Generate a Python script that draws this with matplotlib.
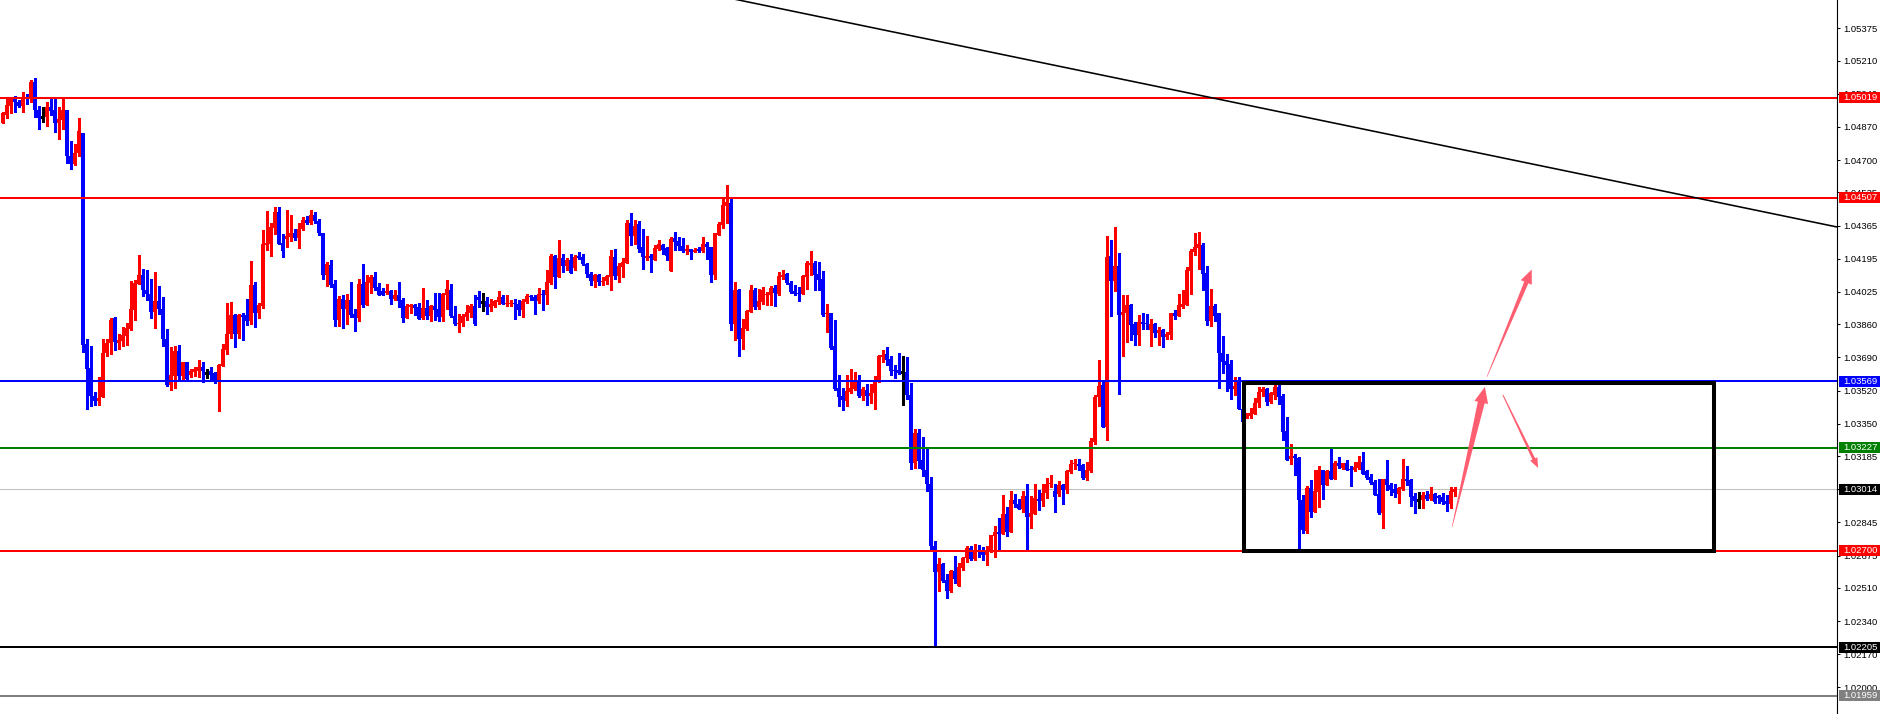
import matplotlib
matplotlib.use("Agg")
import matplotlib.pyplot as plt
from matplotlib.patches import Rectangle, Polygon
from matplotlib.transforms import IdentityTransform, blended_transform_factory
import numpy as np

# ---------------- data (EURUSD-like candles) ----------------
opens = [
    1.04892, 1.04931, 1.04977, 1.05021, 1.04999, 1.04977, 1.05016, 1.05011, 1.05098, 1.04957,
    1.04919, 1.04922, 1.04970, 1.04957, 1.04892, 1.04905, 1.04957, 1.04722, 1.04678, 1.04738,
    1.04837, 1.03759, 1.03636, 1.03491, 1.03469, 1.03486, 1.03713, 1.03765, 1.03891, 1.03763,
    1.03772, 1.03802, 1.03837, 1.03934, 1.04067, 1.04110, 1.04037, 1.04016, 1.03922, 1.03977,
    1.03939, 1.03785, 1.03551, 1.03597, 1.03725, 1.03594, 1.03665, 1.03601, 1.03614, 1.03623,
    1.03640, 1.03611, 1.03618, 1.03609, 1.03563, 1.03645, 1.03730, 1.03811, 1.03908, 1.03811,
    1.03905, 1.03905, 1.03876, 1.04059, 1.03918, 1.03953, 1.04267, 1.04272, 1.04353, 1.04432,
    1.04276, 1.04297, 1.04304, 1.04325, 1.04301, 1.04347, 1.04393, 1.04380, 1.04419, 1.04388,
    1.04325, 1.04111, 1.04163, 1.04065, 1.03880, 1.03988, 1.03937, 1.03983, 1.03914, 1.03892,
    1.04065, 1.03957, 1.04072, 1.04103, 1.04048, 1.04029, 1.04020, 1.04029, 1.03988, 1.04012,
    1.03983, 1.03892, 1.03949, 1.03957, 1.03949, 1.03892, 1.03942, 1.03902, 1.03954, 1.03937,
    1.03897, 1.04010, 1.04034, 1.03902, 1.03860, 1.03867, 1.03897, 1.03916, 1.03954, 1.04000,
    1.03976, 1.03978, 1.03949, 1.03952, 1.03973, 1.03998, 1.03962, 1.03962, 1.03966, 1.03962,
    1.03932, 1.03976, 1.04003, 1.04000, 1.03979, 1.04014, 1.04010, 1.04072, 1.04210, 1.04103,
    1.04200, 1.04157, 1.04188, 1.04149, 1.04209, 1.04205, 1.04166, 1.04119, 1.04080, 1.04111,
    1.04077, 1.04080, 1.04102, 1.04205, 1.04106, 1.04154, 1.04171, 1.04379, 1.04313, 1.04372,
    1.04256, 1.04201, 1.04210, 1.04191, 1.04244, 1.04268, 1.04248, 1.04133, 1.04299, 1.04285,
    1.04263, 1.04234, 1.04244, 1.04230, 1.04246, 1.04234, 1.04273, 1.04253, 1.04111, 1.04319,
    1.04367, 1.04465, 1.04482, 1.03863, 1.04037, 1.03786, 1.03837, 1.03923, 1.04034, 1.03948,
    1.03974, 1.04011, 1.04011, 1.04046, 1.04017, 1.04102, 1.04116, 1.04073, 1.04029, 1.04022,
    1.04017, 1.04102, 1.04162, 1.04171, 1.04116, 1.04090, 1.03911, 1.03918, 1.03747, 1.03533,
    1.03490, 1.03466, 1.03512, 1.03529, 1.03564, 1.03494, 1.03523, 1.03494, 1.03506, 1.03565,
    1.03694, 1.03707, 1.03682, 1.03625, 1.03625, 1.03613, 1.03613, 1.03500, 1.03150, 1.03305,
    1.03167, 1.03116, 1.03044, 1.02727, 1.02591, 1.02633, 1.02548, 1.02493, 1.02599, 1.02519,
    1.02611, 1.02663, 1.02715, 1.02656, 1.02702, 1.02693, 1.02676, 1.02697, 1.02775, 1.02796,
    1.02784, 1.02887, 1.02796, 1.02958, 1.02941, 1.02912, 1.02981, 1.02873, 1.02890, 1.02963,
    1.02953, 1.02996, 1.03040, 1.03004, 1.02989, 1.03035, 1.03010, 1.03104, 1.03143, 1.03146,
    1.03138, 1.03073, 1.03109, 1.03258, 1.03487, 1.03547, 1.03333, 1.04209, 1.04082, 1.04157,
    1.03906, 1.03918, 1.03957, 1.03860, 1.03803, 1.03872, 1.03867, 1.03829, 1.03863, 1.03815,
    1.03829, 1.03795, 1.03803, 1.03915, 1.03901, 1.03949, 1.03957, 1.04133, 1.04231, 1.04248,
    1.04265, 1.04120, 1.03877, 1.03952, 1.03915, 1.03713, 1.03670, 1.03655, 1.03526, 1.03564,
    1.03427, 1.03381, 1.03390, 1.03400, 1.03455, 1.03511, 1.03526, 1.03463, 1.03497, 1.03540,
    1.03492, 1.03313, 1.03169, 1.03184, 1.03177, 1.02962, 1.02800, 1.03022, 1.02899, 1.03001,
    1.03112, 1.03036, 1.03109, 1.03070, 1.03147, 1.03126, 1.03147, 1.03121, 1.03112, 1.03124,
    1.03155, 1.03107, 1.03078, 1.03053, 1.02993, 1.02894, 1.03066, 1.03036, 1.03018, 1.02989,
    1.03018, 1.03066, 1.03061, 1.02981, 1.02959, 1.02959, 1.02988, 1.02964, 1.02993, 1.02979,
    1.02976, 1.02953, 1.02938, 1.03001,
]
highs = [
    1.04948, 1.05016, 1.05025, 1.05028, 1.05008, 1.05047, 1.05039, 1.05110, 1.05119, 1.04977,
    1.04970, 1.04999, 1.05011, 1.05011, 1.04970, 1.05011, 1.04957, 1.04799, 1.04785, 1.04914,
    1.04840, 1.03785, 1.03746, 1.03512, 1.03592, 1.03785, 1.03785, 1.03893, 1.03896, 1.03811,
    1.03845, 1.03867, 1.04081, 1.04084, 1.04213, 1.04144, 1.04139, 1.04090, 1.04125, 1.04057,
    1.03999, 1.03835, 1.03742, 1.03746, 1.03756, 1.03669, 1.03669, 1.03631, 1.03640, 1.03679,
    1.03665, 1.03631, 1.03640, 1.03614, 1.03657, 1.03760, 1.03970, 1.03973, 1.03913, 1.03913,
    1.03918, 1.03987, 1.04182, 1.04076, 1.03970, 1.04341, 1.04438, 1.04380, 1.04461, 1.04461,
    1.04324, 1.04445, 1.04419, 1.04350, 1.04376, 1.04410, 1.04414, 1.04445, 1.04436, 1.04397,
    1.04328, 1.04180, 1.04188, 1.04085, 1.04003, 1.04008, 1.04014, 1.04075, 1.03940, 1.04091,
    1.04167, 1.04111, 1.04111, 1.04128, 1.04072, 1.04046, 1.04068, 1.04037, 1.04034, 1.04075,
    1.03995, 1.03961, 1.03966, 1.03966, 1.03969, 1.04044, 1.03983, 1.03959, 1.04022, 1.04022,
    1.04020, 1.04085, 1.04065, 1.03954, 1.03911, 1.03914, 1.03957, 1.03961, 1.04008, 1.04029,
    1.04020, 1.04000, 1.03990, 1.03986, 1.04029, 1.04008, 1.04012, 1.03983, 1.03988, 1.03983,
    1.03991, 1.04017, 1.04008, 1.04008, 1.04044, 1.04034, 1.04137, 1.04219, 1.04214, 1.04291,
    1.04222, 1.04200, 1.04222, 1.04214, 1.04229, 1.04222, 1.04174, 1.04126, 1.04119, 1.04116,
    1.04102, 1.04111, 1.04239, 1.04246, 1.04171, 1.04201, 1.04393, 1.04431, 1.04393, 1.04389,
    1.04347, 1.04311, 1.04217, 1.04265, 1.04290, 1.04273, 1.04256, 1.04304, 1.04333, 1.04304,
    1.04299, 1.04265, 1.04244, 1.04251, 1.04253, 1.04304, 1.04282, 1.04256, 1.04325, 1.04381,
    1.04504, 1.04572, 1.04501, 1.04077, 1.04042, 1.03888, 1.03931, 1.04059, 1.04047, 1.04039,
    1.04051, 1.04025, 1.04054, 1.04059, 1.04128, 1.04136, 1.04123, 1.04080, 1.04059, 1.04051,
    1.04111, 1.04184, 1.04236, 1.04184, 1.04179, 1.04133, 1.03962, 1.03919, 1.03880, 1.03598,
    1.03534, 1.03598, 1.03632, 1.03615, 1.03598, 1.03540, 1.03553, 1.03553, 1.03594, 1.03702,
    1.03728, 1.03741, 1.03697, 1.03651, 1.03711, 1.03697, 1.03690, 1.03557, 1.03326, 1.03326,
    1.03280, 1.03220, 1.03078, 1.02748, 1.02664, 1.02637, 1.02579, 1.02603, 1.02671, 1.02637,
    1.02668, 1.02722, 1.02722, 1.02733, 1.02728, 1.02719, 1.02722, 1.02782, 1.02827, 1.02868,
    1.02984, 1.02924, 1.03006, 1.02993, 1.02967, 1.03006, 1.03044, 1.02979, 1.03044, 1.03010,
    1.03044, 1.03071, 1.03087, 1.03040, 1.03056, 1.03044, 1.03112, 1.03164, 1.03172, 1.03169,
    1.03146, 1.03155, 1.03275, 1.03497, 1.03675, 1.03564, 1.04311, 1.04291, 1.04356, 1.04226,
    1.04012, 1.04012, 1.03961, 1.03872, 1.03906, 1.03915, 1.03911, 1.03889, 1.03867, 1.03846,
    1.03838, 1.03821, 1.03918, 1.03932, 1.04017, 1.04034, 1.04154, 1.04243, 1.04328, 1.04330,
    1.04274, 1.04157, 1.04038, 1.03961, 1.03918, 1.03800, 1.03706, 1.03679, 1.03590, 1.03590,
    1.03436, 1.03403, 1.03429, 1.03480, 1.03537, 1.03537, 1.03535, 1.03511, 1.03549, 1.03549,
    1.03501, 1.03386, 1.03249, 1.03193, 1.03181, 1.02988, 1.03030, 1.03061, 1.03112, 1.03133,
    1.03116, 1.03116, 1.03224, 1.03159, 1.03178, 1.03147, 1.03164, 1.03135, 1.03155, 1.03186,
    1.03207, 1.03116, 1.03095, 1.03061, 1.03070, 1.03070, 1.03164, 1.03048, 1.03044, 1.03027,
    1.03172, 1.03133, 1.03065, 1.02996, 1.03001, 1.03001, 1.03005, 1.03024, 1.02996, 1.02984,
    1.02996, 1.02984, 1.03027, 1.03024,
]
lows = [
    1.04888, 1.04914, 1.04943, 1.04948, 1.04974, 1.04948, 1.04987, 1.04999, 1.04922, 1.04859,
    1.04897, 1.04876, 1.04931, 1.04845, 1.04809, 1.04862, 1.04686, 1.04657, 1.04674, 1.04720,
    1.03717, 1.03426, 1.03443, 1.03447, 1.03448, 1.03486, 1.03696, 1.03708, 1.03729, 1.03734,
    1.03746, 1.03754, 1.03831, 1.03884, 1.04064, 1.04002, 1.03982, 1.03893, 1.03840, 1.03913,
    1.03748, 1.03542, 1.03525, 1.03534, 1.03571, 1.03571, 1.03575, 1.03589, 1.03597, 1.03592,
    1.03563, 1.03585, 1.03571, 1.03558, 1.03414, 1.03645, 1.03708, 1.03789, 1.03742, 1.03789,
    1.03777, 1.03854, 1.03862, 1.03845, 1.03891, 1.03944, 1.04238, 1.04209, 1.04324, 1.04269,
    1.04204, 1.04256, 1.04285, 1.04289, 1.04251, 1.04342, 1.04373, 1.04373, 1.04376, 1.04316,
    1.04094, 1.04055, 1.04051, 1.03851, 1.03851, 1.03841, 1.03863, 1.03897, 1.03826, 1.03877,
    1.03949, 1.03957, 1.04020, 1.04034, 1.04008, 1.04008, 1.04017, 1.03962, 1.03983, 1.03949,
    1.03872, 1.03892, 1.03918, 1.03909, 1.03887, 1.03887, 1.03887, 1.03877, 1.03884, 1.03877,
    1.03877, 1.03937, 1.03897, 1.03856, 1.03820, 1.03851, 1.03880, 1.03897, 1.03856, 1.03949,
    1.03928, 1.03911, 1.03926, 1.03949, 1.03966, 1.03961, 1.03952, 1.03952, 1.03887, 1.03909,
    1.03897, 1.03969, 1.03983, 1.03911, 1.03971, 1.03932, 1.03962, 1.04068, 1.04046, 1.04103,
    1.04128, 1.04137, 1.04123, 1.04137, 1.04193, 1.04161, 1.04103, 1.04059, 1.04051, 1.04061,
    1.04059, 1.04068, 1.04034, 1.04094, 1.04077, 1.04102, 1.04171, 1.04265, 1.04270, 1.04230,
    1.04143, 1.04188, 1.04128, 1.04188, 1.04239, 1.04222, 1.04188, 1.04133, 1.04242, 1.04239,
    1.04230, 1.04222, 1.04196, 1.04229, 1.04229, 1.04230, 1.04196, 1.04077, 1.04094, 1.04316,
    1.04354, 1.04376, 1.03829, 1.03777, 1.03697, 1.03731, 1.03829, 1.03923, 1.03940, 1.03936,
    1.03962, 1.03957, 1.03957, 1.03953, 1.04008, 1.04094, 1.04068, 1.04020, 1.04011, 1.03979,
    1.04013, 1.04042, 1.04111, 1.04037, 1.04037, 1.03902, 1.03820, 1.03731, 1.03521, 1.03440,
    1.03422, 1.03440, 1.03507, 1.03521, 1.03487, 1.03471, 1.03446, 1.03458, 1.03425, 1.03562,
    1.03668, 1.03651, 1.03600, 1.03586, 1.03605, 1.03446, 1.03476, 1.03117, 1.03126, 1.03126,
    1.03083, 1.03006, 1.02702, 1.02211, 1.02493, 1.02539, 1.02457, 1.02488, 1.02536, 1.02519,
    1.02604, 1.02642, 1.02651, 1.02651, 1.02668, 1.02651, 1.02625, 1.02693, 1.02668, 1.02707,
    1.02784, 1.02775, 1.02796, 1.02924, 1.02912, 1.02899, 1.02710, 1.02816, 1.02886, 1.02907,
    1.02929, 1.02970, 1.03027, 1.02899, 1.02979, 1.02938, 1.02996, 1.03099, 1.03121, 1.03112,
    1.03066, 1.03061, 1.03104, 1.03249, 1.03440, 1.03333, 1.03268, 1.03903, 1.04031, 1.03504,
    1.03697, 1.03769, 1.03778, 1.03756, 1.03756, 1.03838, 1.03833, 1.03749, 1.03795, 1.03752,
    1.03744, 1.03786, 1.03786, 1.03886, 1.03901, 1.03945, 1.03957, 1.04014, 1.04214, 1.04145,
    1.04034, 1.03855, 1.03850, 1.03877, 1.03533, 1.03610, 1.03516, 1.03475, 1.03499, 1.03424,
    1.03355, 1.03378, 1.03378, 1.03398, 1.03437, 1.03492, 1.03446, 1.03458, 1.03475, 1.03449,
    1.03266, 1.03164, 1.03143, 1.03087, 1.02714, 1.02791, 1.02791, 1.02873, 1.02899, 1.02924,
    1.02967, 1.03036, 1.03066, 1.03066, 1.03126, 1.03121, 1.03112, 1.03030, 1.03107, 1.03121,
    1.03092, 1.03070, 1.03044, 1.02984, 1.02890, 1.02817, 1.03013, 1.02984, 1.02976, 1.02945,
    1.03013, 1.03036, 1.02930, 1.02894, 1.02921, 1.02921, 1.02959, 1.02959, 1.02947, 1.02947,
    1.02938, 1.02904, 1.02919, 1.02981,
]
closes = [
    1.04939, 1.04982, 1.05016, 1.04999, 1.04977, 1.05025, 1.05011, 1.05098, 1.04957, 1.04917,
    1.04919, 1.04970, 1.04953, 1.04892, 1.04909, 1.04957, 1.04722, 1.04678, 1.04739, 1.04849,
    1.03754, 1.03631, 1.03491, 1.03465, 1.03483, 1.03713, 1.03765, 1.03884, 1.03768, 1.03777,
    1.03807, 1.03840, 1.03936, 1.04071, 1.04110, 1.04037, 1.04016, 1.03922, 1.03977, 1.03939,
    1.03785, 1.03551, 1.03602, 1.03725, 1.03594, 1.03669, 1.03580, 1.03618, 1.03629, 1.03640,
    1.03618, 1.03611, 1.03601, 1.03563, 1.03652, 1.03734, 1.03811, 1.03908, 1.03811, 1.03905,
    1.03896, 1.03876, 1.04059, 1.03918, 1.03956, 1.04269, 1.04276, 1.04358, 1.04432, 1.04269,
    1.04235, 1.04311, 1.04325, 1.04301, 1.04347, 1.04393, 1.04380, 1.04419, 1.04388, 1.04325,
    1.04111, 1.04166, 1.04060, 1.03880, 1.03988, 1.03937, 1.03983, 1.03909, 1.03892, 1.04065,
    1.03957, 1.04075, 1.04103, 1.04043, 1.04012, 1.04012, 1.04029, 1.03988, 1.04012, 1.03979,
    1.03892, 1.03954, 1.03957, 1.03943, 1.03887, 1.03942, 1.03902, 1.03954, 1.03933, 1.03897,
    1.04014, 1.04039, 1.03902, 1.03860, 1.03868, 1.03902, 1.03920, 1.03954, 1.03860, 1.03983,
    1.03976, 1.03949, 1.03962, 1.03978, 1.03998, 1.03962, 1.03969, 1.03969, 1.03961, 1.03932,
    1.03979, 1.04003, 1.04000, 1.03979, 1.04014, 1.04008, 1.04077, 1.04210, 1.04103, 1.04200,
    1.04157, 1.04188, 1.04123, 1.04205, 1.04200, 1.04166, 1.04118, 1.04082, 1.04111, 1.04077,
    1.04082, 1.04106, 1.04208, 1.04106, 1.04159, 1.04179, 1.04379, 1.04313, 1.04365, 1.04244,
    1.04205, 1.04208, 1.04200, 1.04251, 1.04273, 1.04239, 1.04210, 1.04295, 1.04282, 1.04260,
    1.04234, 1.04244, 1.04230, 1.04239, 1.04234, 1.04273, 1.04253, 1.04111, 1.04325, 1.04372,
    1.04470, 1.04487, 1.03863, 1.04037, 1.03786, 1.03842, 1.03926, 1.04034, 1.03948, 1.03977,
    1.04034, 1.04017, 1.04046, 1.04020, 1.04106, 1.04111, 1.04071, 1.04025, 1.04017, 1.04017,
    1.04106, 1.04171, 1.04171, 1.04111, 1.04085, 1.03906, 1.03918, 1.03740, 1.03526, 1.03487,
    1.03470, 1.03517, 1.03533, 1.03572, 1.03490, 1.03526, 1.03494, 1.03509, 1.03565, 1.03697,
    1.03702, 1.03677, 1.03620, 1.03620, 1.03608, 1.03613, 1.03500, 1.03150, 1.03305, 1.03161,
    1.03112, 1.03040, 1.02722, 1.02591, 1.02633, 1.02545, 1.02493, 1.02599, 1.02553, 1.02616,
    1.02664, 1.02714, 1.02659, 1.02702, 1.02693, 1.02676, 1.02697, 1.02779, 1.02796, 1.02784,
    1.02887, 1.02796, 1.02958, 1.02938, 1.02916, 1.02981, 1.02873, 1.02893, 1.02970, 1.02953,
    1.02998, 1.03044, 1.03049, 1.02975, 1.03039, 1.03010, 1.03107, 1.03146, 1.03146, 1.03133,
    1.03073, 1.03112, 1.03261, 1.03485, 1.03544, 1.03333, 1.04202, 1.04082, 1.04157, 1.03906,
    1.03923, 1.03957, 1.03855, 1.03803, 1.03872, 1.03860, 1.03860, 1.03860, 1.03815, 1.03829,
    1.03795, 1.03809, 1.03915, 1.03901, 1.03957, 1.03962, 1.04137, 1.04236, 1.04253, 1.04270,
    1.04116, 1.03877, 1.03952, 1.03901, 1.03713, 1.03667, 1.03650, 1.03530, 1.03544, 1.03424,
    1.03359, 1.03386, 1.03407, 1.03458, 1.03514, 1.03526, 1.03463, 1.03506, 1.03540, 1.03489,
    1.03309, 1.03167, 1.03184, 1.03177, 1.02959, 1.02808, 1.03022, 1.02899, 1.03005, 1.03112,
    1.03036, 1.03109, 1.03070, 1.03147, 1.03133, 1.03147, 1.03112, 1.03116, 1.03130, 1.03155,
    1.03095, 1.03075, 1.03049, 1.02984, 1.02894, 1.03066, 1.03036, 1.03010, 1.02996, 1.03022,
    1.03066, 1.03058, 1.02976, 1.02953, 1.02959, 1.02988, 1.02964, 1.02993, 1.02950, 1.02971,
    1.02950, 1.02938, 1.03005, 1.03014,
]

tick_prices = [1.05375, 1.05210, 1.05040, 1.04870, 1.04700, 1.04535, 1.04365,
               1.04195, 1.04025, 1.03860, 1.03690, 1.03520, 1.03350, 1.03185,
               1.03015, 1.02845, 1.02675, 1.02510, 1.02340, 1.02170, 1.02000]

level_prices = [1.05019, 1.04507, 1.03569, 1.03227, 1.03014, 1.02700, 1.02205, 1.01959]
level_line_colors = ['#ff0000', '#ff0000', '#0000ff', '#008000', '#c0c0c0',
                     '#ff0000', '#000000', '#808080']
level_label_colors = ['#ff0000', '#ff0000', '#0000ff', '#008000', '#000000',
                      '#ff0000', '#000000', '#808080']

# trend line anchors (bar index, price)
trend_bars = [150.0, 458.6]
trend_prices = [1.05664, 1.04358]

# rectangle (bar index / price)
box_bars = [310.4, 427.9]
box_prices = [1.02700, 1.03558]

# arrows: (tail bar, tail price, tip bar, tip price)
arrow_specs = [
    (362.4, 1.02822, 370.6, 1.03539),
    (371.1, 1.03590, 382.3, 1.04140),
    (375.1, 1.03498, 383.9, 1.03124),
]

# ---------------- figure ----------------
W, H = 1884, 714
DPI = 100
fig = plt.figure(figsize=(W / DPI, H / DPI), dpi=DPI, facecolor='white')
AX_W = 1837
ax = fig.add_axes([0, 0, AX_W / W, 1])
ax.set_facecolor('white')

ymin, ymax = 1.018643, 1.0552
xmin, xmax = -0.625, 458.625
ax.set_xlim(xmin, xmax)
ax.set_ylim(ymin, ymax)
px_price = (ymax - ymin) / H

o = np.array(opens); h = np.array(highs); l = np.array(lows); c = np.array(closes)
idx = np.arange(len(o))
cols = np.where(c > o, '#ff0000', np.where(c < o, '#0000ff', '#000000'))

# wicks
ax.vlines(idx, l, h, colors=cols, linewidth=0.75, zorder=2, antialiased=False)
# bodies
bottoms = np.minimum(o, c)
heights = np.maximum(np.abs(c - o), px_price)
doji = c == o
ax.bar(idx[~doji], heights[~doji], bottom=bottoms[~doji], width=0.75,
       color=cols[~doji], linewidth=0, zorder=2, antialiased=False)
ax.hlines(c[doji], idx[doji] - 0.375, idx[doji] + 0.375, colors='#000000',
          linewidth=0.75, zorder=2, antialiased=False)

# horizontal levels
for p, col in zip(level_prices, level_line_colors):
    lw = 0.75 if col == '#c0c0c0' else 1.45
    z = 1.5 if col == '#c0c0c0' else 3
    ax.axhline(p, color=col, linewidth=lw, zorder=z)

# trend line
ax.plot(trend_bars, trend_prices, color='black', linewidth=1.15, zorder=3)

# rectangle
ax.add_patch(Rectangle((box_bars[0], box_prices[0]), box_bars[1] - box_bars[0],
                       box_prices[1] - box_prices[0], fill=False,
                       edgecolor='black', linewidth=2.9, joinstyle='miter', zorder=4))

# arrows (tapered polygons in pixel space)
fig.canvas.draw()
arrow_color = '#ff5468'
shape = [  # (tail width, shaft end width, head width, head length) in px
    (0.5, 7.0, 14.0, 16.0),
    (0.5, 4.5, 12.0, 14.0),
    (1.0, 3.0, 8.0, 10.0),
]
for (tb, tp, hb, hp), (w0, ws, hw, hl) in zip(arrow_specs, shape):
    t = ax.transData.transform((tb, tp))
    tip = ax.transData.transform((hb, hp))
    d = tip - t
    u = d / np.hypot(*d)
    n = np.array([-u[1], u[0]])
    base = tip - u * hl
    pts = [t + n * w0 / 2, base + n * ws / 2, base + n * hw / 2, tip,
           base - n * hw / 2, base - n * ws / 2, t - n * w0 / 2]
    fig.patches.append(Polygon(pts, closed=True, facecolor=arrow_color,
                               edgecolor='none', transform=IdentityTransform(),
                               figure=fig, zorder=5, alpha=0.95))

# axes styling
for s in ['top', 'left', 'bottom']:
    ax.spines[s].set_visible(False)
ax.spines['right'].set_linewidth(0.8)
ax.spines['right'].set_color('black')
ax.set_xticks([])
ax.yaxis.tick_right()
ax.set_yticks(tick_prices)
ax.set_yticklabels([f"{p:.5f}" for p in tick_prices])
ax.tick_params(axis='y', direction='out', length=2.2, width=0.75, pad=2.3,
               labelsize=6.8, colors='black')
for lab in ax.get_yticklabels():
    lab.set_fontfamily('Liberation Sans')

# colored price labels on axis
btr = blended_transform_factory(ax.transAxes, ax.transData)
bx0 = 1839 / AX_W
bw = 41 / AX_W
bh = 11 * px_price
for p, col in zip(level_prices, level_label_colors):
    ax.add_patch(Rectangle((bx0, p - bh / 2), bw, bh, transform=btr,
                           facecolor=col, edgecolor='none', clip_on=False, zorder=10))
    ax.text(1843 / AX_W, p, f"{p:.5f}", transform=btr, color='white',
            fontsize=6.8, fontfamily='Liberation Sans', va='center', ha='left',
            clip_on=False, zorder=11)

fig.savefig('out.png', dpi=DPI, facecolor='white')
